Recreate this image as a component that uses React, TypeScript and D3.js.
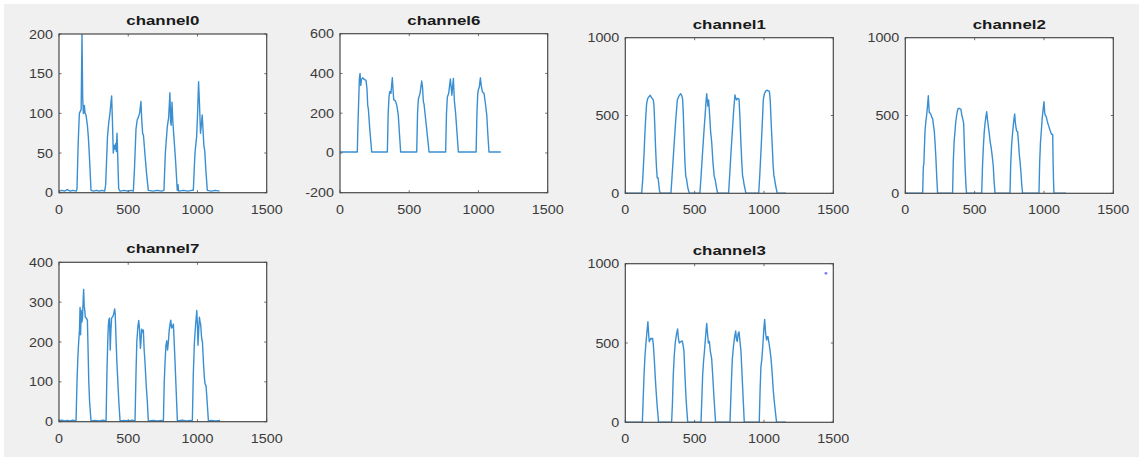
import React from "react";
import * as d3 from "d3";

// ---- data ----
const xTicks = [0, 500, 1000, 1500];

const channel0: [number, number][] = [
  [0, 2], [20, 3], [40, 2], [60, 4], [80, 2], [100, 3], [125, 2], [130, 5], [138, 60], [147, 100], [160, 105],
  [166, 200], [171, 120], [176, 100], [183, 110], [188, 100], [195, 98], [205, 85], [212, 70], [219, 48],
  [224, 30], [231, 3], [250, 2], [270, 3], [290, 2], [310, 3], [330, 2], [337, 10], [350, 70], [359, 88],
  [368, 100], [380, 122], [386, 90], [392, 50], [398, 60], [404, 55], [410, 62], [414, 52], [419, 75],
  [425, 40], [431, 5], [441, 2], [470, 3], [500, 2], [520, 3], [537, 2], [545, 30], [556, 80], [565, 92],
  [573, 95], [582, 100], [592, 115], [598, 90], [604, 75], [610, 72], [620, 50], [632, 25], [645, 3],
  [680, 2], [710, 3], [740, 2], [758, 3], [768, 50], [782, 83], [792, 95], [801, 126], [806, 90], [810, 85],
  [816, 114], [822, 90], [830, 70], [842, 40], [854, 3], [860, 10], [864, 2], [900, 3], [930, 2], [960, 3],
  [970, 3], [982, 50], [994, 71], [1001, 100], [1008, 140], [1015, 110], [1022, 75], [1028, 85], [1034, 98],
  [1040, 80], [1046, 60], [1053, 52], [1060, 30], [1071, 3], [1100, 2], [1130, 3], [1160, 2],
];

const channel6: [number, number][] = [
  [0, 5], [125, 5], [130, 150], [140, 375], [145, 400], [150, 340], [155, 370], [164, 378], [175, 370],
  [188, 365], [195, 320], [200, 240], [205, 220], [215, 120], [229, 5], [342, 5], [348, 200], [354, 283],
  [360, 310], [368, 300], [378, 378], [383, 320], [388, 268], [400, 262], [410, 240], [421, 190], [430, 90],
  [438, 5], [554, 5], [560, 200], [566, 270], [578, 300], [590, 362], [596, 330], [602, 258], [607, 245],
  [620, 160], [632, 80], [643, 5], [763, 5], [769, 200], [775, 280], [785, 300], [797, 372], [803, 330],
  [808, 290], [813, 330], [819, 375], [826, 262], [835, 200], [845, 100], [855, 5], [983, 5], [989, 200],
  [995, 300], [1000, 320], [1006, 330], [1014, 378], [1020, 340], [1028, 308], [1040, 300], [1050, 250],
  [1060, 190], [1068, 90], [1076, 5], [1161, 5],
];

const channel1: [number, number][] = [
  [0, 0], [118, 0], [125, 80], [135, 250], [142, 396], [148, 500], [154, 578], [162, 610], [171, 621],
  [180, 630], [190, 615], [202, 600], [207, 560], [212, 450], [218, 300], [224, 180], [230, 100], [236, 100],
  [240, 70], [246, 20], [252, 0], [329, 0], [338, 120], [351, 300], [362, 450], [375, 600], [387, 625],
  [399, 640], [406, 630], [413, 610], [418, 520], [424, 350], [430, 200], [436, 110], [442, 90], [450, 40],
  [461, 0], [538, 0], [547, 120], [557, 260], [567, 396], [577, 520], [583, 600], [587, 640], [592, 590],
  [596, 560], [601, 600], [607, 520], [615, 400], [623, 330], [632, 200], [641, 110], [649, 85], [655, 50],
  [666, 0], [745, 0], [753, 120], [762, 260], [772, 400], [782, 540], [791, 632], [797, 610], [803, 600],
  [810, 610], [820, 605], [826, 500], [833, 340], [840, 200], [846, 110], [851, 90], [858, 50], [870, 0],
  [962, 0], [970, 120], [980, 300], [988, 450], [995, 600], [1003, 640], [1014, 660], [1025, 662],
  [1039, 655], [1045, 600], [1052, 450], [1060, 300], [1066, 180], [1072, 110], [1077, 90], [1084, 50],
  [1096, 0], [1159, 0],
];

const channel2: [number, number][] = [
  [0, 0], [125, 0], [128, 100], [130, 170], [134, 190], [138, 300], [142, 396], [148, 460], [154, 503],
  [160, 560], [166, 627], [170, 560], [173, 518], [180, 515], [185, 505], [191, 490], [197, 480], [203, 440],
  [209, 400], [215, 320], [221, 220], [227, 100], [233, 0], [341, 0], [346, 200], [352, 330], [358, 396],
  [364, 460], [370, 500], [376, 530], [382, 546], [392, 545], [401, 540], [408, 500], [414, 480], [421, 450],
  [426, 300], [432, 150], [438, 40], [442, 0], [551, 0], [557, 180], [563, 300], [569, 390], [575, 450],
  [581, 490], [587, 525], [593, 470], [599, 430], [606, 380], [612, 330], [618, 300], [624, 260], [630, 214],
  [634, 180], [640, 80], [647, 0], [755, 0], [760, 180], [766, 300], [772, 370], [778, 430], [784, 480],
  [789, 510], [794, 450], [799, 420], [803, 400], [810, 395], [816, 330], [822, 250], [828, 200], [835, 120],
  [840, 50], [846, 0], [964, 0], [969, 200], [975, 330], [981, 400], [987, 480], [994, 540], [1000, 589],
  [1005, 520], [1010, 500], [1016, 495], [1022, 470], [1028, 450], [1035, 430], [1042, 410], [1048, 395],
  [1053, 381], [1063, 378], [1066, 200], [1069, 80], [1072, 0], [1159, 0],
];

const channel7: [number, number][] = [
  [0, 2], [20, 4], [40, 2], [60, 3], [80, 2], [100, 4], [123, 2], [130, 100], [136, 160], [142, 200],
  [148, 230], [152, 287], [156, 218], [160, 280], [165, 250], [170, 260], [174, 300], [178, 332], [182, 290],
  [186, 280], [190, 262], [195, 261], [205, 255], [210, 180], [215, 100], [221, 50], [231, 2], [260, 3],
  [290, 2], [320, 4], [340, 2], [346, 120], [352, 200], [356, 240], [360, 255], [365, 260], [370, 180],
  [375, 230], [380, 260], [390, 265], [396, 272], [402, 283], [406, 270], [412, 205], [418, 150], [425, 100],
  [432, 50], [441, 2], [470, 3], [500, 2], [530, 4], [549, 2], [556, 120], [562, 200], [570, 240], [576, 254],
  [582, 230], [588, 184], [592, 200], [597, 232], [603, 225], [609, 230], [615, 180], [621, 150], [630, 90],
  [638, 50], [645, 2], [680, 3], [710, 2], [740, 3], [754, 2], [760, 100], [766, 150], [772, 190], [778, 203],
  [784, 180], [790, 200], [796, 230], [802, 245], [807, 255], [813, 235], [821, 240], [826, 245], [832, 200],
  [838, 150], [846, 80], [855, 2], [890, 4], [920, 2], [950, 3], [963, 2], [970, 120], [978, 200], [986, 240],
  [995, 279], [1000, 240], [1004, 192], [1009, 230], [1014, 262], [1019, 250], [1023, 245], [1030, 210],
  [1036, 200], [1043, 150], [1050, 110], [1055, 95], [1062, 90], [1068, 60], [1079, 2], [1100, 3],
  [1130, 2], [1163, 3],
];

const channel3: [number, number][] = [
  [0, 0], [123, 0], [128, 120], [135, 298], [142, 420], [149, 500], [156, 570], [163, 634], [168, 560],
  [173, 508], [179, 520], [185, 530], [191, 525], [197, 529], [203, 480], [209, 400], [215, 300], [222, 200],
  [230, 100], [240, 0], [334, 0], [340, 120], [346, 300], [353, 420], [360, 500], [368, 550], [377, 588],
  [383, 530], [389, 500], [395, 505], [404, 510], [411, 513], [416, 490], [423, 450], [430, 300], [438, 150],
  [450, 0], [546, 0], [552, 150], [558, 300], [564, 380], [571, 450], [579, 540], [587, 624], [593, 560],
  [599, 500], [606, 510], [613, 450], [623, 400], [630, 300], [640, 150], [651, 0], [755, 0], [761, 150],
  [767, 300], [772, 400], [779, 470], [787, 530], [796, 576], [802, 520], [808, 510], [814, 560], [820, 570],
  [826, 520], [834, 450], [842, 300], [850, 150], [858, 0], [966, 0], [972, 200], [978, 350], [985, 400],
  [993, 500], [1000, 600], [1005, 649], [1012, 560], [1019, 519], [1024, 540], [1029, 540], [1036, 500],
  [1043, 460], [1051, 400], [1060, 300], [1067, 200], [1078, 100], [1091, 0], [1159, 0],
];

const channel3Marker: [number, number][] = [[1447, 939]];

const yTicks0 = [0, 50, 100, 150, 200];
const yTicks6 = [-200, 0, 200, 400, 600];
const yTicks1000 = [0, 500, 1000];
const yTicks7 = [0, 100, 200, 300, 400];

// ---- layout ----
type Panel = {
  title: string;
  data: [number, number][];
  markers?: [number, number][];
  yDomain: [number, number];
  yTicks: number[];
  box: { x: number; y: number; w: number; h: number };
};

const panels: Panel[] = [
  { title: "channel0", data: channel0, yDomain: [0, 200], yTicks: yTicks0, box: { x: 59, y: 34, w: 207.7, h: 158.7 } },
  { title: "channel6", data: channel6, yDomain: [-200, 600], yTicks: yTicks6, box: { x: 340, y: 33.7, w: 207.7, h: 159 } },
  { title: "channel1", data: channel1, yDomain: [0, 1000], yTicks: yTicks1000, box: { x: 625.3, y: 37.7, w: 208, h: 155.6 } },
  { title: "channel2", data: channel2, yDomain: [0, 1000], yTicks: yTicks1000, box: { x: 905.3, y: 37.7, w: 208, h: 155.6 } },
  { title: "channel7", data: channel7, yDomain: [0, 400], yTicks: yTicks7, box: { x: 59, y: 262.3, w: 207.7, h: 159.4 } },
  { title: "channel3", data: channel3, markers: channel3Marker, yDomain: [0, 1000], yTicks: yTicks1000, box: { x: 625.3, y: 263.7, w: 208, h: 158.6 } },
];

const AXIS = "#4a4a4a";
const TEXT = "#3a3a3a";
const LINE = "#3a8fd2";
const FONT = "'Liberation Sans', Arial, Helvetica, sans-serif";

function Subplot({ p }: { p: Panel }) {
  const { x: bx, y: by, w, h } = p.box;
  const xs = d3.scaleLinear().domain([0, 1500]).range([bx, bx + w]);
  const ys = d3.scaleLinear().domain(p.yDomain).range([by + h, by]);
  const line = d3
    .line<[number, number]>()
    .x((d) => xs(d[0]))
    .y((d) => ys(d[1]));
  const tl = 2.5;
  return (
    <g>
      <rect x={bx} y={by} width={w} height={h} fill="#ffffff" />
      <clipPath id={`clip-${p.title}`}>
        <rect x={bx} y={by} width={w} height={h} />
      </clipPath>
      <g clipPath={`url(#clip-${p.title})`}>
        <path d={line(p.data) || ""} fill="none" stroke={LINE} strokeWidth={1.4} strokeLinejoin="round" />
        {(p.markers || []).map((m, i) => (
          <circle key={i} cx={xs(m[0])} cy={ys(m[1])} r={1.4} fill="#7a7aff" />
        ))}
      </g>
      {xTicks.map((t) => (
        <g key={`xt${t}`}>
          <line x1={xs(t)} x2={xs(t)} y1={by + h} y2={by + h - tl} stroke={AXIS} strokeWidth={0.8} />
          <line x1={xs(t)} x2={xs(t)} y1={by} y2={by + tl} stroke={AXIS} strokeWidth={0.8} />
          <text
            transform={`translate(${xs(t)},${by + h + 21}) scale(1.12,1)`}
            textAnchor="middle"
            fontFamily={FONT}
            fontSize={12.8}
            fill={TEXT}
          >
            {t}
          </text>
        </g>
      ))}
      {p.yTicks.map((t) => (
        <g key={`yt${t}`}>
          <line x1={bx} x2={bx + tl} y1={ys(t)} y2={ys(t)} stroke={AXIS} strokeWidth={0.8} />
          <line x1={bx + w} x2={bx + w - tl} y1={ys(t)} y2={ys(t)} stroke={AXIS} strokeWidth={0.8} />
          <text
            transform={`translate(${bx - 6},${ys(t) + 4.5}) scale(1.12,1)`}
            textAnchor="end"
            fontFamily={FONT}
            fontSize={12.8}
            fill={TEXT}
          >
            {t}
          </text>
        </g>
      ))}
      <rect x={bx} y={by} width={w} height={h} fill="none" stroke={AXIS} strokeWidth={1.2} />
      <text
        transform={`translate(${bx + w / 2},${by - 9}) scale(1.3,1)`}
        textAnchor="middle"
        fontFamily={FONT}
        fontWeight="bold"
        fontSize={13}
        fill="#1a1a1a"
      >
        {p.title}
      </text>
    </g>
  );
}

export default function App() {
  return (
    <svg
      width={1139}
      height={457}
      viewBox="0 0 1139 457"
      style={{ position: "absolute", left: 0, top: 0, display: "block" }}
    >
      <rect x={0} y={0} width={1139} height={457} fill="#f0f0f0" />
      <rect x={0} y={0} width={1139} height={4} fill="#ffffff" />
      <rect x={0} y={0} width={4} height={457} fill="#ffffff" />
      {panels.map((p) => (
        <Subplot key={p.title} p={p} />
      ))}
    </svg>
  );
}
